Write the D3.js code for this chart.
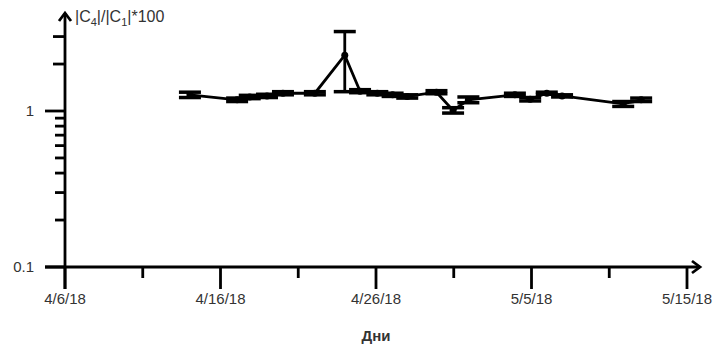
<!DOCTYPE html>
<html>
<head>
<meta charset="utf-8">
<script src="https://cdn.jsdelivr.net/npm/d3@7"></script>
<style>
  html, body { margin: 0; padding: 0; background: #fff; }
  svg { display: block; font-family: "Liberation Sans", Arial, sans-serif; }
</style>
</head>
<body>
<svg id="chart" width="725" height="348"></svg>
<script>
// Measurement timestamps and ratio values (|C4|/|C1|*100) with their error half-widths
const dates = [
  "2018-04-13T20:00", "2018-04-16T19:00", "2018-04-17T14:00", "2018-04-18T16:00", "2018-04-19T16:00",
  "2018-04-21T16:00", "2018-04-23T13:00", "2018-04-24T12:00", "2018-04-25T14:00", "2018-04-26T13:00",
  "2018-04-27T11:00", "2018-04-29T07:00", "2018-04-30T08:00", "2018-05-01T07:00", "2018-05-04T05:00",
  "2018-05-05T04:00", "2018-05-06T05:00", "2018-05-07T04:00", "2018-05-11T00:00", "2018-05-12T03:00"
];
const values = [
  1.27, 1.18, 1.23, 1.25, 1.30,
  1.30, 2.28, 1.34, 1.30, 1.27,
  1.24, 1.32, 1.01, 1.18, 1.27,
  1.19, 1.30, 1.25, 1.11, 1.18
];
const errors = [
  0.05, 0.03, 0.03, 0.03, 0.03,
  0.03, 0.95, 0.03, 0.03, 0.03,
  0.03, 0.03, 0.04, 0.05, 0.03,
  0.03, 0.02, 0.02, 0.04, 0.03
];

// Axis annotations
const xTickLabels = ["4/6/18", "4/16/18", "4/26/18", "5/5/18", "5/15/18"];
const yMajorTicks = [0.1, 1];
const yMinorTicks = [0.2, 0.3, 0.4, 0.5, 0.6, 0.7, 0.8, 0.9, 2, 3];
const xStart = new Date(2018, 3, 6);
const xEnd = new Date(2018, 4, 15);

const svg = d3.select("#chart");
const parse = d3.timeParse("%Y-%m-%dT%H:%M");
const data = dates.map((d, i) => ({ date: parse(d), v: values[i], e: errors[i] }));

const x = d3.scaleTime().domain([xStart, xEnd]).range([65, 687]);
const y = d3.scaleLog().domain([0.1, 1]).range([267, 111]);

const axisColor = "#000";
const textColor = "#333";
const x0 = x(xStart);
const yBase = y(0.1);

// X axis line with arrow
svg.append("line")
  .attr("x1", 45).attr("x2", 700)
  .attr("y1", yBase).attr("y2", yBase)
  .attr("stroke", axisColor).attr("stroke-width", 2.8);
svg.append("path")
  .attr("d", `M${692},${yBase - 6}L${700},${yBase}L${692},${yBase + 6}`)
  .attr("fill", "none").attr("stroke", axisColor).attr("stroke-width", 2.8);

// Y axis line with arrow
svg.append("line")
  .attr("x1", x0).attr("x2", x0)
  .attr("y1", 289).attr("y2", 13)
  .attr("stroke", axisColor).attr("stroke-width", 2.8);
svg.append("path")
  .attr("d", `M${x0 - 6},${21}L${x0},${13}L${x0 + 6},${21}`)
  .attr("fill", "none").attr("stroke", axisColor).attr("stroke-width", 2.8);

// X ticks: majors carry the labels, minors sit halfway between
const xTicks = d3.range(9).map(i => new Date(+xStart + i * (xEnd - xStart) / 8));
svg.append("g").selectAll("line")
  .data(xTicks)
  .join("line")
  .attr("x1", d => x(d)).attr("x2", d => x(d))
  .attr("y1", yBase)
  .attr("y2", (d, i) => yBase + (i % 2 === 0 ? 22 : 11))
  .attr("stroke", axisColor).attr("stroke-width", 2.8);
svg.append("g").selectAll("text")
  .data(xTicks.filter((d, i) => i % 2 === 0))
  .join("text")
  .attr("x", d => x(d)).attr("y", 304)
  .attr("text-anchor", "middle")
  .attr("font-size", 15).attr("fill", textColor)
  .text((d, i) => xTickLabels[i]);

// Y ticks
svg.append("g").selectAll("line")
  .data(yMajorTicks)
  .join("line")
  .attr("x1", 45).attr("x2", x0)
  .attr("y1", d => y(d)).attr("y2", d => y(d))
  .attr("stroke", axisColor).attr("stroke-width", 2.8);
svg.append("g").selectAll("line")
  .data(yMinorTicks)
  .join("line")
  .attr("x1", d => x0 - (d > 1 ? 12 : 10)).attr("x2", x0)
  .attr("y1", d => y(d)).attr("y2", d => y(d))
  .attr("stroke", axisColor).attr("stroke-width", 2.8);
svg.append("g").selectAll("text")
  .data(yMajorTicks)
  .join("text")
  .attr("x", 34).attr("y", d => y(d) + 5)
  .attr("text-anchor", "end")
  .attr("font-size", 15).attr("fill", textColor)
  .text(d => d3.format("~g")(d));

// Y axis title with subscripts
const yTitle = svg.append("text")
  .attr("x", 75).attr("y", 22)
  .attr("font-size", 16).attr("fill", textColor);
yTitle.append("tspan").text("|C");
yTitle.append("tspan").attr("font-size", 11).attr("dy", 4).text("4");
yTitle.append("tspan").attr("dy", -4).text("|/|C");
yTitle.append("tspan").attr("font-size", 11).attr("dy", 4).text("1");
yTitle.append("tspan").attr("dy", -4).text("|*100");

// X axis title
svg.append("text")
  .attr("x", 376).attr("y", 341)
  .attr("text-anchor", "middle")
  .attr("font-size", 15).attr("font-weight", "bold").attr("fill", textColor)
  .text("Дни");

// Error bars
const eb = svg.append("g").attr("stroke", "#000");
eb.selectAll("line.stem")
  .data(data)
  .join("line").attr("class", "stem")
  .attr("x1", d => x(d.date)).attr("x2", d => x(d.date))
  .attr("y1", d => y(d.v + d.e)).attr("y2", d => y(d.v - d.e))
  .attr("stroke-width", 2.8);
["top", "bot"].forEach(side => {
  eb.selectAll("line.cap-" + side)
    .data(data)
    .join("line").attr("class", "cap-" + side)
    .attr("x1", d => x(d.date) - 11).attr("x2", d => x(d.date) + 11)
    .attr("y1", d => y(side === "top" ? d.v + d.e : d.v - d.e))
    .attr("y2", d => y(side === "top" ? d.v + d.e : d.v - d.e))
    .attr("stroke-width", 3.5);
});

// Series line and markers
svg.append("path")
  .datum(data)
  .attr("fill", "none").attr("stroke", "#000").attr("stroke-width", 2.8)
  .attr("d", d3.line().x(d => x(d.date)).y(d => y(d.v)));
svg.append("g").selectAll("circle")
  .data(data)
  .join("circle")
  .attr("cx", d => x(d.date)).attr("cy", d => y(d.v))
  .attr("r", 3.5).attr("fill", "#000");
</script>
</body>
</html>
